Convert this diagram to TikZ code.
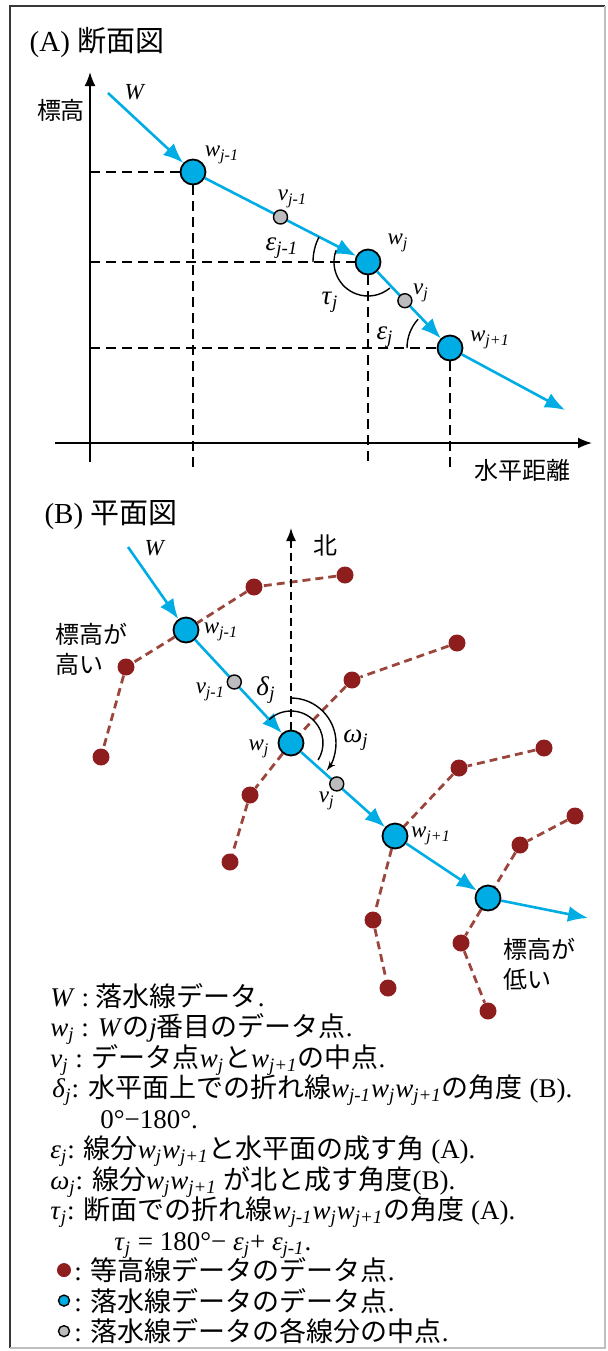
\documentclass[tikz,border=0pt]{standalone}
\usepackage{fontspec}
\setmainfont{Liberation Serif}
\newfontfamily\jp{Noto Sans CJK JP}
\usetikzlibrary{arrows,arrows.meta,calc}
\pgfdeclarelayer{background}
\pgfsetlayers{background,main}
\definecolor{flowblue}{RGB}{0,172,228}
\definecolor{midgray}{RGB}{188,188,190}
\definecolor{dotred}{RGB}{142,30,30}
\definecolor{contline}{RGB}{155,70,60}
\definecolor{framegray}{RGB}{55,55,55}
\tikzstyle{wpt}=[circle, draw=black, line width=0.9pt, fill=flowblue,
  minimum size=12.5pt, inner sep=0pt]
\tikzstyle{vpt}=[circle, draw=black, line width=0.7pt, fill=midgray,
  minimum size=7pt, inner sep=0pt]
\tikzstyle{cpt}=[circle, fill=dotred, minimum size=8.5pt, inner sep=0pt]
\tikzstyle{flow} = [draw, line width=1.3pt, color=flowblue, -{Latex[length=10pt,width=8pt]}]
\tikzstyle{axisline} = [draw, line width=0.9pt, -{Latex[length=7pt,width=5.5pt]}]
\tikzstyle{north} = [draw, line width=0.8pt, dash pattern=on 4pt off 2.5pt,
  -{Latex[length=6.5pt,width=5pt]}]
\tikzstyle{guide} = [draw, line width=0.6pt, dash pattern=on 5pt off 3pt]
\tikzstyle{contour} = [draw, line width=1.4pt, color=contline, dash pattern=on 4pt off 2.5pt]
\tikzstyle{angarc} = [draw, line width=0.7pt]
\tikzstyle{heading} = [inner sep=0pt, font=\fontsize{14.5}{17}\selectfont]
\tikzstyle{texto} = [inner sep=0pt, font=\jp\fontsize{12}{15}\selectfont, align=left]
\tikzstyle{sym} = [inner sep=0pt, font=\fontsize{11.5}{13}\selectfont]
\tikzstyle{greek} = [inner sep=0pt, font=\fontsize{13.5}{15}\selectfont]
\tikzstyle{legline} = [anchor=base west, inner sep=0pt, font=\fontsize{13.5}{16}\selectfont]
\newcommand{\wsub}[1]{\textit{w}\textsubscript{\textit{#1}}}
\newcommand{\vsub}[1]{\textit{v}\textsubscript{\textit{#1}}}
\newcommand{\gsub}[2]{\textit{#1}\textsubscript{\textit{#2}}}

\begin{document}
\begin{tikzpicture}[x=0.5pt, y=-0.5pt]
  \useasboundingbox (0,0) rectangle (607,1351);

  % Frame
  \draw[line width=1.3pt, color=framegray] (10,1348) -- (10,6) -- (605,6);
  \draw[line width=0.8pt, color=black!25] (605,6) -- (605,1348) -- (10,1348);

  % (A) cross section
  \path (97,43) node (tA) [heading] {(A) {\jp 断面図}};
  \coordinate (oA) at (90,443);
  \coordinate (ytop) at (90,72);
  \coordinate (ybot) at (90,462);
  \coordinate (xleft) at (55,443);
  \coordinate (xright) at (592,443);
  \coordinate (gbot) at (90,467);
  \path[axisline] (ybot) -- (ytop);
  \path[axisline] (xleft) -- (xright);
  \path (61,110) node (hA) [texto] {標高};
  \path (522,470) node (dA) [texto] {水平距離};

  % Draw diagram elements
  \path (193,172) node (wA1) [wpt] {};
  \path (368,262) node (wA2) [wpt] {};
  \path (450,348) node (wA3) [wpt] {};
  \coordinate (sA) at (108,93);
  \coordinate (eA) at (565,410);

  \begin{pgfonlayer}{background}
    \path[guide] (oA |- wA1) -- (wA1);
    \path[guide] (oA |- wA2) -- (wA2);
    \path[guide] (oA |- wA3) -- (wA3);
    \path[guide] (wA1) -- (wA1 |- gbot);
    \path[guide] (wA2) -- (wA2 |- gbot);
    \path[guide] (wA3) -- (wA3 |- gbot);
  \end{pgfonlayer}

  % Draw arrows between elements
  \path[flow] (sA) -- (wA1);
  \path[flow] (wA1) -- (wA2);
  \path[flow] (wA2) -- (wA3);
  \path[flow] (wA3) -- (eA);
  \path ($(wA1)!0.5!(wA2)$) node (vA1) [vpt] {};
  \path ($(wA2)!0.45!(wA3)$) node (vA2) [vpt] {};

  % Angles
  \path[angarc] ($(wA2)+(180:55)$) arc[start angle=180, end angle=207, radius=55];
  \path[angarc] ($(wA2)+(200:34)$) arc[start angle=200, end angle=50, radius=34];
  \path[angarc] ($(wA3)+(180:43)$) arc[start angle=180, end angle=222, radius=43];

  % Labels
  \path (sA)+(27,-1) node (lWA) [sym] {\textit{W}};
  \path (wA1)+(29,-17) node (lwA1) [sym] {\wsub{j-1}};
  \path (vA1)+(12,-18) node (lvA1) [sym] {\vsub{j-1}};
  \path (wA2)+(30,-19) node (lwA2) [sym] {\wsub{j}};
  \path (vA2)+(16,-8) node (lvA2) [sym] {\vsub{j}};
  \path (wA3)+(40,-8) node (lwA3) [sym] {\wsub{j+1}};
  \path (282,248) node (leA1) [greek] {\gsub{ε}{j-1}};
  \path (330,302) node (ltA) [greek] {\gsub{τ}{j}};
  \path (385,337) node (leA2) [greek] {\gsub{ε}{j}};

  % (B) plan
  \path (111,515) node (tB) [heading] {(B) {\jp 平面図}};

  % Draw diagram elements
  \path (186,630) node (wB1) [wpt] {};
  \path (291,743) node (wB2) [wpt] {};
  \path (395,836) node (wB3) [wpt] {};
  \path (488,898) node (wB4) [wpt] {};
  \coordinate (sB) at (128,547);
  \coordinate (eB) at (588,918);
  \coordinate (nB) at (291,528);

  \path (345,575) node (c11) [cpt] {};
  \path (254,587) node (c12) [cpt] {};
  \path (126,667) node (c13) [cpt] {};
  \path (101,757) node (c14) [cpt] {};
  \path (457,643) node (c21) [cpt] {};
  \path (352,680) node (c22) [cpt] {};
  \path (250,795) node (c23) [cpt] {};
  \path (230,862) node (c24) [cpt] {};
  \path (544,748) node (c31) [cpt] {};
  \path (459,768) node (c32) [cpt] {};
  \path (373,920) node (c33) [cpt] {};
  \path (388,988) node (c34) [cpt] {};
  \path (575,816) node (c41) [cpt] {};
  \path (520,845) node (c42) [cpt] {};
  \path (461,943) node (c43) [cpt] {};
  \path (488,1011) node (c44) [cpt] {};

  \begin{pgfonlayer}{background}
    \path[contour] (c11) -- (c12) -- (wB1) -- (c13) -- (c14);
    \path[contour] (c21) -- (c22) -- (wB2) -- (c23) -- (c24);
    \path[contour] (c31) -- (c32) -- (wB3) -- (c33) -- (c34);
    \path[contour] (c41) -- (c42) -- (wB4) -- (c43) -- (c44);
  \end{pgfonlayer}

  % Draw arrows between elements
  \path[north] (wB2) -- (nB);
  \path[flow] (sB) -- (wB1);
  \path[flow] (wB1) -- (wB2);
  \path[flow] (wB2) -- (wB3);
  \path[flow] (wB3) -- (wB4);
  \path[flow] (wB4) -- (eB);
  \path ($(wB1)!0.46!(wB2)$) node (vB1) [vpt] {};
  \path ($(wB2)!0.44!(wB3)$) node (vB2) [vpt] {};

  % Angles
  \path[angarc] ($(wB2)+(227:32)$) arc[start angle=227, end angle=392, radius=32];
  \path[angarc, -latex'] ($(wB2)+(270:45)$) arc[start angle=270, end angle=398, radius=45];

  % Labels
  \path (sB)+(27,1) node (lWB) [sym] {\textit{W}};
  \path (wB1)+(35,2) node (lwB1) [sym] {\wsub{j-1}};
  \path (vB1)+(-24,10) node (lvB1) [sym] {\vsub{j-1}};
  \path (wB2)+(-32,6) node (lwB2) [sym] {\wsub{j}};
  \path (vB2)+(-10,17) node (lvB2) [sym] {\vsub{j}};
  \path (wB3)+(36,0) node (lwB3) [sym] {\wsub{j+1}};
  \path (266,690) node (ldB) [greek] {\gsub{δ}{j}};
  \path (356,740) node (loB) [greek] {\gsub{ω}{j}};
  \path (nB)+(34,17) node (lnB) [texto] {北};
  \path (55,649) node (hiB) [texto, anchor=west] {標高が\\高い};
  \path (503,964) node (lowB) [texto, anchor=west] {標高が\\低い};

  % Legend
  \path (50,1006) node (l1) [legline] {\textit{W} : {\jp 落水線データ}.};
  \path (l1.base west)+(0,30.5) node (l2) [legline]
    {\wsub{j} : \textit{W}{\jp の}\textit{j}{\jp 番目のデータ点}.};
  \path (l2.base west)+(0,30.5) node (l3) [legline]
    {\vsub{j} : {\jp データ点}\wsub{j}{\jp と}\wsub{j+1}{\jp の中点}.};
  \path (l3.base west)+(2,30.5) node (l4) [legline]
    {\gsub{δ}{j}: {\jp 水平面上での折れ線}\wsub{j-1}\wsub{j}\wsub{j+1}{\jp の角度} (B).};
  \path (l4.base west)+(48,30.5) node (l5) [legline] {0°−180°.};
  \path (l5.base west)+(-50,30.5) node (l6) [legline]
    {\gsub{ε}{j}: {\jp 線分}\wsub{j}\wsub{j+1}{\jp と水平面の成す角} (A).};
  \path (l6.base west)+(0,30.5) node (l7) [legline]
    {\gsub{ω}{j}: {\jp 線分}\wsub{j}\wsub{j+1} {\jp が北と成す角度}(B).};
  \path (l7.base west)+(0,30.5) node (l8) [legline]
    {\gsub{τ}{j}: {\jp 断面での折れ線}\wsub{j-1}\wsub{j}\wsub{j+1}{\jp の角度} (A).};
  \path (l8.base west)+(64,30.5) node (l9) [legline]
    {\gsub{τ}{j} = 180°− \gsub{ε}{j}+ \gsub{ε}{j-1}.};
  \path (l9.base west)+(-40,30.5) node (l10) [legline] {: {\jp 等高線データのデータ点}.};
  \path (l10.base west)+(0,30.5) node (l11) [legline] {: {\jp 落水線データのデータ点}.};
  \path (l11.base west)+(0,30.5) node (l12) [legline] {: {\jp 落水線データの各線分の中点}.};
  \path (l10.west)+(-10,0) node (k1) [cpt, minimum size=7pt] {};
  \path (l11.west)+(-10,0) node (k2) [wpt, minimum size=5.5pt, line width=0.7pt] {};
  \path (l12.west)+(-10,0) node (k3) [vpt, minimum size=5.5pt] {};
\end{tikzpicture}
\end{document}
